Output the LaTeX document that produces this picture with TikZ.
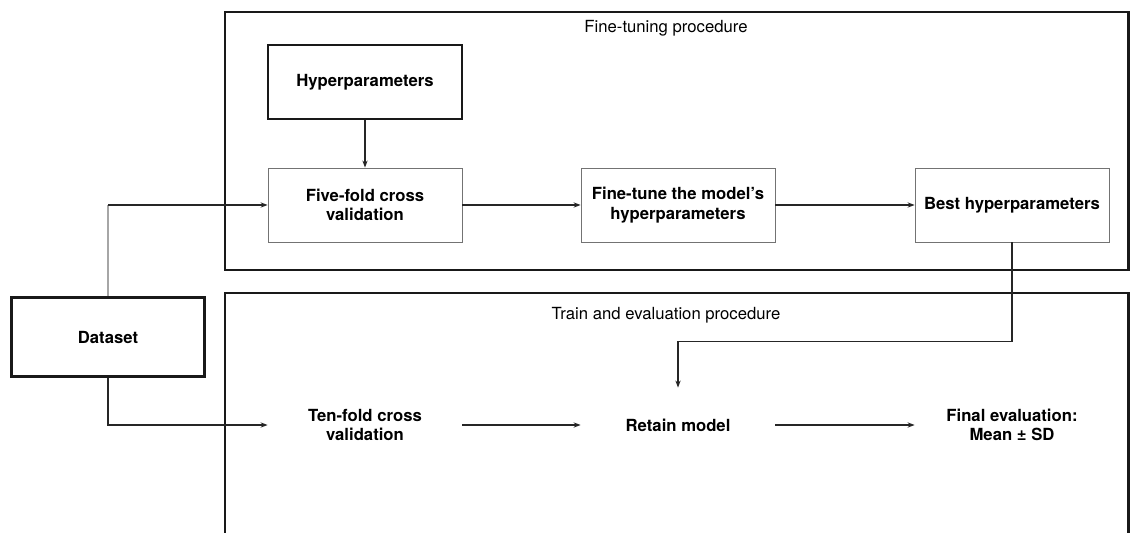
\documentclass[tikz,border=0pt]{standalone}
\usepackage{fontspec}
\setmainfont{TeX Gyre Heros}
\usetikzlibrary{arrows.meta}

\begin{document}
\begin{tikzpicture}[x=0.02cm, y=-0.02cm,
    every node/.style={font=\fontsize{9.5}{11}\selectfont, align=center},
    frame/.style={line width=1.7pt, black!90},
    stepbox/.style={draw=black!55, line width=0.5pt, minimum width=3.88cm, minimum height=1.48cm, font=\fontsize{9.5}{11}\selectfont\bfseries},
    plainbox/.style={stepbox, draw=none},
    keybox/.style={stepbox, draw=black!90, line width=1.3pt},
    flow/.style={line width=0.7pt, black!85, -{Stealth[length=4pt, width=3pt]}}]
    \useasboundingbox (0,0) rectangle (1132,533);
    % the two procedures
    \draw[frame] (225,12) rectangle (1128,270);
    \draw[frame] (225,545) -- (225,293) -- (1128,293) -- (1128,545);
    \node (ftitle) at (666,28) {Fine-tuning procedure};
    \node (ttitle) at (666,315) {Train and evaluation procedure};
    % fine-tuning row
    \node[keybox] (hyper) at (365,82) {Hyperparameters};
    \node[stepbox] (fivefold) at (365,205) {Five-fold cross\\validation};
    \node[stepbox] (finetune) at (678,205) {Fine-tune the model's\\hyperparameters};
    \node[stepbox] (best) at (1012,205) {Best hyperparameters};
    % train and evaluation row
    \node[keybox, line width=1.7pt, minimum height=1.6cm] (data) at (108,337) {Dataset};
    \node[plainbox] (tenfold) at (365,425) {Ten-fold cross\\validation};
    \node[plainbox] (retain) at (678,425) {Retain model};
    \node[plainbox] (final) at (1012,425) {Final evaluation:\\Mean ± SD};
    % connectors
    \coordinate (dturn) at (data.north |- fivefold.west);
    \draw[flow] (hyper) -- (fivefold);
    \draw[flow] (fivefold) -- (finetune);
    \draw[flow] (finetune) -- (best);
    \draw[line width=0.7pt, black!35] (data.north) -- (dturn);
    \draw[flow] (dturn) -- (fivefold.west);
    \draw[flow] (data.south) |- (tenfold.west);
    \draw[flow] (tenfold) -- (retain);
    \draw[flow] (retain) -- (final);
    \draw[flow] (best.south) -- ++(0,99) -| (retain.north);
\end{tikzpicture}
\end{document}
